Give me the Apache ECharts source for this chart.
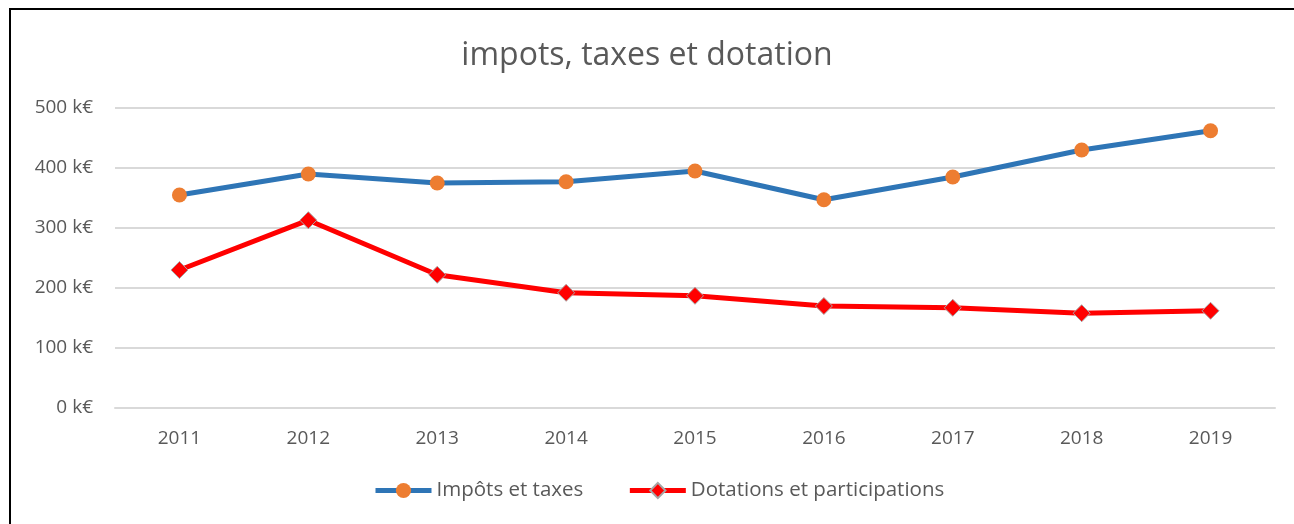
<!DOCTYPE html>
<html><head><meta charset="utf-8">
<script src="https://cdn.jsdelivr.net/npm/echarts@6/dist/echarts.min.js"></script>
<style>html,body{margin:0;padding:0;background:#fff;}#c{width:1294px;height:524px;}</style>
</head><body><div id="c"></div>
<script>
const categories = ['2011','2012','2013','2014','2015','2016','2017','2018','2019'];
const impots = [355, 390, 375, 377, 395, 347, 385, 430, 462];
const dotations = [230, 313, 222, 192, 187, 170, 167, 158, 162];
const titleText = 'impots, taxes et dotation';
const seriesNames = ['Impôts et taxes', 'Dotations et participations'];
const font = '"Open Sans", sans-serif';
const chart = echarts.init(document.getElementById('c'));
chart.setOption({
  animation: false,
  title: { text: titleText, left: 'center', top: 35, textStyle: { fontFamily: font, fontSize: 32, fontWeight: 'normal', color: '#595959' } },
  graphic: [{ type: 'rect', shape: { x: 10, y: 9, width: 1400, height: 700 }, style: { fill: null, stroke: '#000', lineWidth: 2 }, silent: true }],
  grid: { left: 115, right: 19, top: 108, bottom: 116 },
  legend: { bottom: 18, left: 368, itemGap: 44, itemWidth: 56, itemHeight: 19,
    lineStyle: { width: 5 },
    textStyle: { fontFamily: font, fontSize: 20.5, color: '#595959' }, data: seriesNames },
  xAxis: { type: 'category', data: categories, boundaryGap: true,
    axisLine: { show: true, lineStyle: { color: '#d9d9d9', width: 2 } }, axisTick: { show: false },
    axisLabel: { fontFamily: font, fontSize: 19, color: '#595959', margin: 21 } },
  yAxis: { type: 'value', min: 0, max: 500, interval: 100,
    axisLine: { show: false }, axisTick: { show: false },
    splitLine: { lineStyle: { color: '#d9d9d9', width: 2 } },
    axisLabel: { fontFamily: font, fontSize: 19, color: '#595959', margin: 22, formatter: v => v + ' k€' } },
  series: [
    { name: seriesNames[0], type: 'line', data: impots, symbol: 'circle', symbolSize: 15,
      lineStyle: { color: '#2e75b6', width: 5 }, itemStyle: { color: '#ed7d31', borderWidth: 0 } },
    { name: seriesNames[1], type: 'line', data: dotations, symbol: 'diamond', symbolSize: 17,
      lineStyle: { color: '#ff0000', width: 5 }, itemStyle: { color: '#ff0000', borderColor: '#a6a6a6', borderWidth: 1 } }
  ]
});
</script></body></html>
